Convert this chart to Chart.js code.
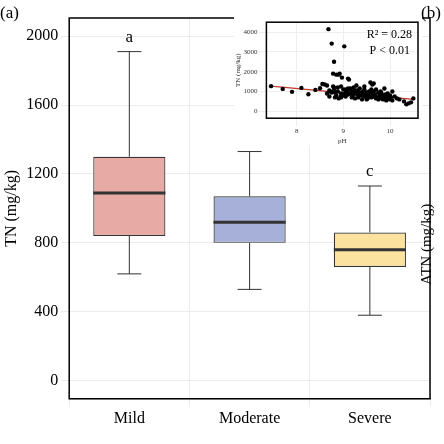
<!DOCTYPE html>
<html><head><meta charset="utf-8">
<script src="https://cdn.jsdelivr.net/npm/chart.js@4"></script>
<style>
body{margin:0;background:#fff;font-family:"Liberation Serif",serif}
#wrap{position:relative;width:444px;height:444px}
#main{position:absolute;left:0;top:0}
#insetBox{position:absolute;left:234px;top:17px;width:188px;height:128px;background:#fff}
.t{position:absolute;font-family:"Liberation Serif",serif;color:#000}
</style></head><body>
<div id="wrap">
<canvas id="main" width="444" height="444"></canvas>
<div id="insetBox"><canvas id="inset" width="188" height="128"></canvas></div>
<div class="t" style="left:0;top:3px;font-size:17px">(a)</div>
<div class="t" style="left:421px;top:3px;font-size:17px">(b)</div>
<div class="t" style="left:418px;font-size:15px;transform:rotate(-90deg);transform-origin:left top;white-space:nowrap;top:285px">ATN (mg/kg)</div>
</div>
<script>
const categories=["Mild","Moderate","Severe"];
const whiskLow=[620,530,380];
const q1=[840,800,660];
const medians=[1090,920,760];
const q3=[1300,1070,860];
const whiskHigh=[1910,1330,1130];
const letters=["a","b","c"];
const boxColors=["#e8aaa4","#a7b0d8","#fbe39f"];
const yTicks=[0,400,800,1200,1600,2000];

const pH=[7.45,7.7,7.9,8.1,8.25,8.4,8.5,8.55,8.6,8.65,8.68,8.7,8.72,8.75,8.78,8.8,8.8,8.82,8.85,8.85,8.88,8.9,8.9,8.92,8.95,8.95,8.97,9.0,9.0,9.02,9.05,9.05,9.08,9.1,9.1,9.12,9.15,9.15,9.18,9.2,9.2,9.22,9.25,9.25,9.28,9.3,9.3,9.32,9.35,9.35,9.38,9.4,9.4,9.42,9.45,9.45,9.48,9.5,9.5,9.52,9.55,9.55,9.58,9.6,9.6,9.62,9.65,9.65,9.68,9.7,9.7,9.72,9.75,9.75,9.78,9.8,9.8,9.82,9.85,9.85,9.88,9.9,9.9,9.92,9.95,9.95,9.98,10.0,10.0,10.02,10.05,10.05,10.1,10.15,10.2,10.3,10.35,10.4,10.45,10.5,8.65,8.8,9.05,8.82,8.78,8.88,8.95,9.0,9.15,9.25,9.35,9.65,9.75,9.45,9.6,8.75,8.7,8.95,9.1,9.5];
const TN=[1270,1130,980,1180,860,1080,1160,1380,1350,900,4150,750,1000,3420,1900,2500,1050,700,1850,800,1200,1850,650,1900,900,700,1700,1100,800,3280,950,750,1000,1650,850,1600,900,1100,700,1000,800,1200,900,650,1300,850,1050,700,950,1150,800,900,600,1000,750,1100,850,700,950,650,1000,800,1450,900,700,1350,750,1400,850,650,1100,700,950,600,800,1000,650,900,750,600,1150,700,850,550,750,900,650,800,600,700,1000,550,750,650,600,500,350,400,450,650,1300,1200,1100,950,1250,1000,750,850,1150,1050,900,1000,700,1250,1100,950,1050,1250,1150,600];
const trendX=[7.45,10.5];
const trendY=[1270,600];

const font={family:"Liberation Serif",size:16};
const boxPlugin={id:'box',afterDatasetsDraw(c){
  const ctx=c.ctx,x=c.scales.x,y=c.scales.y;
  ctx.save();ctx.strokeStyle='#333';ctx.lineWidth=1;
  categories.forEach((k,i)=>{
    const cx=x.getPixelForValue(i),hw=12;
    ctx.beginPath();
    ctx.moveTo(cx,y.getPixelForValue(whiskHigh[i]));ctx.lineTo(cx,y.getPixelForValue(q3[i]));
    ctx.moveTo(cx,y.getPixelForValue(q1[i]));ctx.lineTo(cx,y.getPixelForValue(whiskLow[i]));
    [whiskHigh[i],whiskLow[i]].forEach(v=>{ctx.moveTo(cx-hw,y.getPixelForValue(v));ctx.lineTo(cx+hw,y.getPixelForValue(v));});
    ctx.stroke();
    ctx.lineWidth=3;ctx.beginPath();
    const bw=c.getDatasetMeta(0).data[i].width/2;
    ctx.moveTo(cx-bw,y.getPixelForValue(medians[i]));ctx.lineTo(cx+bw,y.getPixelForValue(medians[i]));ctx.stroke();ctx.lineWidth=1;
    ctx.fillStyle='#000';ctx.font='17px "Liberation Serif"';ctx.textAlign='center';ctx.textBaseline='bottom';
    ctx.fillText(letters[i],cx,y.getPixelForValue(whiskHigh[i])-6);
  });
  ctx.restore();
}};
const frame={id:'frame',afterDraw(c){const a=c.chartArea,ctx=c.ctx;ctx.save();ctx.strokeStyle='#000';ctx.lineWidth=c.options.frameW||1.5;ctx.strokeRect(a.left,a.top,a.right-a.left,a.bottom-a.top);ctx.restore();}};
new Chart(document.getElementById('main'),{
  type:'bar',
  data:{labels:categories,datasets:[{data:categories.map((k,i)=>[q1[i],q3[i]]),backgroundColor:boxColors,borderColor:'#333',borderWidth:1.2,borderSkipped:false,barPercentage:0.6,categoryPercentage:1}]},
  options:{responsive:false,animation:false,layout:{padding:{left:0,right:14,top:18,bottom:14}},
    plugins:{legend:{display:false},tooltip:{enabled:false}},
    scales:{
      x:{grid:{color:'#ebebeb'},border:{color:'#000'},ticks:{color:'#000',font,padding:2}},
      y:{min:-105,max:2105,afterBuildTicks(a){a.ticks=yTicks.map(v=>({value:v}));},grid:{color:'#ebebeb'},ticks:{color:'#000',font,callback:v=>String(v)},
         title:{display:true,text:'TN (mg/kg)',color:'#000',font,padding:2}}
    }},
  plugins:[boxPlugin,frame]
});
const sf={family:"Liberation Serif",size:7};
new Chart(document.getElementById('inset'),{
  type:'scatter',
  data:{datasets:[
    {type:'line',data:trendX.map((v,i)=>({x:v,y:trendY[i]})),borderColor:'#c0392b',borderWidth:1.2,pointRadius:0,order:2},
    {data:pH.map((v,i)=>({x:v,y:TN[i]})),backgroundColor:'#000',pointRadius:2.2,borderWidth:0,order:1}]},
  options:{responsive:false,animation:false,frameW:1.5,layout:{padding:{top:2,right:4}},
    plugins:{legend:{display:false},tooltip:{enabled:false}},
    scales:{
      x:{type:'linear',min:7.35,max:10.6,afterBuildTicks(a){a.ticks=[8,9,10].map(v=>({value:v}));},grid:{color:'#eeeeee'},ticks:{color:'#333',font:sf,padding:1},title:{display:true,text:'pH',color:'#333',font:sf,padding:0}},
      y:{min:-350,max:4500,afterBuildTicks(a){a.ticks=[0,1000,2000,3000,4000].map(v=>({value:v}));},grid:{color:'#eeeeee'},ticks:{color:'#333',font:sf,padding:1,callback:v=>String(v)},title:{display:true,text:'TN (mg/kg)',color:'#333',font:sf,padding:0}}
    }},
  plugins:[frame,{id:'txt',afterDraw(c){const ctx=c.ctx,a=c.chartArea;ctx.save();ctx.fillStyle='#000';ctx.font='12px "Liberation Serif"';ctx.textAlign='right';ctx.fillText('R² = 0.28',a.right-6,a.top+16);ctx.fillText('P < 0.01',a.right-8,a.top+32);ctx.restore();}}]
});
</script>
</body></html>
